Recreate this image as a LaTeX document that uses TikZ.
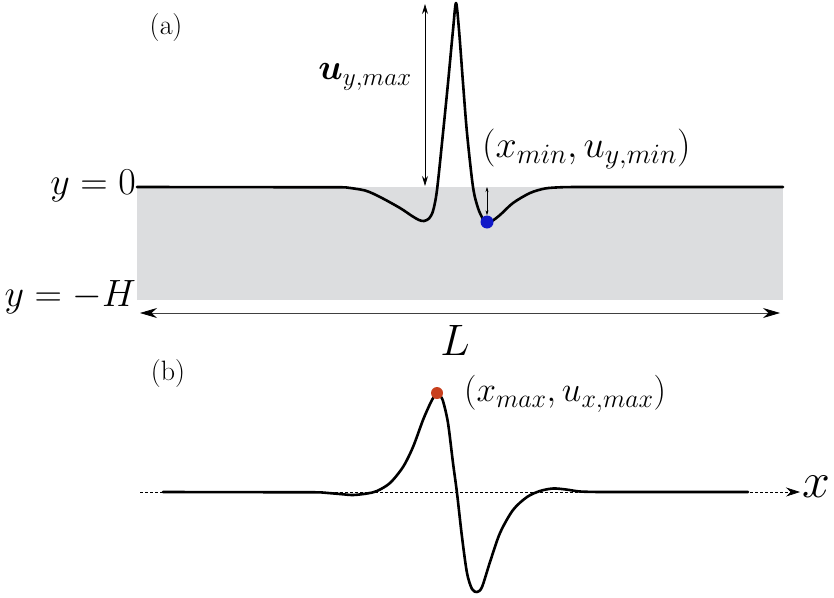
\RequirePackage{fix-cm}
\documentclass[tikz,border=0pt]{standalone}
\usepackage{amsmath}
\DeclareMathSizes{38}{38}{28}{22}
\DeclareMathSizes{35}{35}{26}{20}
\usetikzlibrary{arrows.meta}
\definecolor{slab}{RGB}{220,221,223}
\definecolor{dotblue}{RGB}{16,24,200}
\definecolor{dotred}{RGB}{200,64,30}
\begin{document}
\begin{tikzpicture}[x=1pt,y=-1pt,
  curve/.style={line width=2.6pt, line join=round, line cap=round},
  dbl/.style={line width=0.8pt, {Stealth[length=10pt,width=6pt]}-{Stealth[length=10pt,width=6pt]}},
  smalldbl/.style={line width=0.5pt, {Stealth[length=5pt,width=3pt]}-{Stealth[length=5pt,width=3pt]}},
  bigdbl/.style={line width=0.8pt, draw=black!75, {Stealth[length=17pt,width=10pt,black]}-{Stealth[length=17pt,width=10pt,black]}},
  panellbl/.style={inner sep=0pt, font=\fontsize{28}{32}\selectfont},
  mlbl/.style={inner sep=0pt, font=\fontsize{38}{42}\selectfont},
  dot/.style={circle, inner sep=0pt, minimum size=13pt}]
\useasboundingbox (0,0) rectangle (834,597);
% ---------- (a) ----------
\fill[slab] (137,187) rectangle (783,300);
\node[panellbl] (ta) at (166,28) {$(\mathrm{a})$};
\draw[curve] (137,187) -- (345,187.3)
  plot[smooth, tension=0.5] coordinates {(345,187.3) (365,190.5) (380,197) (400,208) (412,216) (419,220) (424,221)
    (429,218.5) (433,211) (437,190) (443,133) (448,83) (453,30) (456,3) (459,30) (463,83) (467,133)
    (473,187) (478,208) (483,219) (487,222) (492,221) (500,215) (513,203) (530,193) (545,188.5) (560,187.3) (575,187)}
  -- (783,187);
\coordinate (umaxtop) at (425,4);
\coordinate (umaxbot) at (425,186);
\draw[dbl] (umaxtop) -- (umaxbot);
\node[mlbl, anchor=east, font=\fontsize{36}{40}\selectfont] (umax) at (412,77) {$\boldsymbol{u}_{y,max}$};
\node[dot, fill=dotblue] (ymin) at (487,222) {};
\coordinate (yzero) at (487,187);
\draw[smalldbl] (yzero) -- (ymin.north);
\node[mlbl, anchor=west] (yminlbl) at (482,149) {$(x_{min},u_{y,min})$};
\node[mlbl, anchor=east] (y0) at (136,186) {$y=0$};
\node[mlbl, anchor=east] (yH) at (136,297) {$y=-H$};
\coordinate (Lleft) at (140,313);
\coordinate (Lright) at (780,313);
\draw[bigdbl] (Lleft) -- (Lright);
\node[inner sep=0pt, font=\fontsize{44}{48}\selectfont] (L) at (455,340) {$L$};
% ---------- (b) ----------
\node[panellbl] (tb) at (168,373) {$(\mathrm{b})$};
\coordinate (axl) at (140,492);
\coordinate (axr) at (800,492);
\draw[line width=0.7pt, dash pattern=on 3pt off 2pt, -{Stealth[length=14pt,width=9pt]}] (axl) -- (axr);
\node[inner sep=0pt, anchor=west, font=\fontsize{50}{54}\selectfont] (xlbl) at (802,487) {$x$};
\draw[curve] (163,492) -- (320,492.3)
  plot[smooth, tension=0.5] coordinates {(320,492.3) (340,494) (353,495) (367,493.5) (377,491) (390,483) (403,467)
    (413,447) (423,420) (430,404) (434,396.5) (437,394) (440,396) (443,401) (448,423) (453,463) (457,493)
    (462,537) (467,573) (472,589) (477,592) (482,587) (490,562) (500,533) (513,510) (527,497) (540,491)
    (553,488.5) (566,489.5) (580,491.5) (600,492)}
  -- (748,492);
\node[dot, fill=dotred, minimum size=12pt] (xmax) at (437,393) {};
\node[mlbl, anchor=west, font=\fontsize{35}{39}\selectfont] (xmaxlbl) at (464,394) {$(x_{max},u_{x,max})$};
\end{tikzpicture}
\end{document}
